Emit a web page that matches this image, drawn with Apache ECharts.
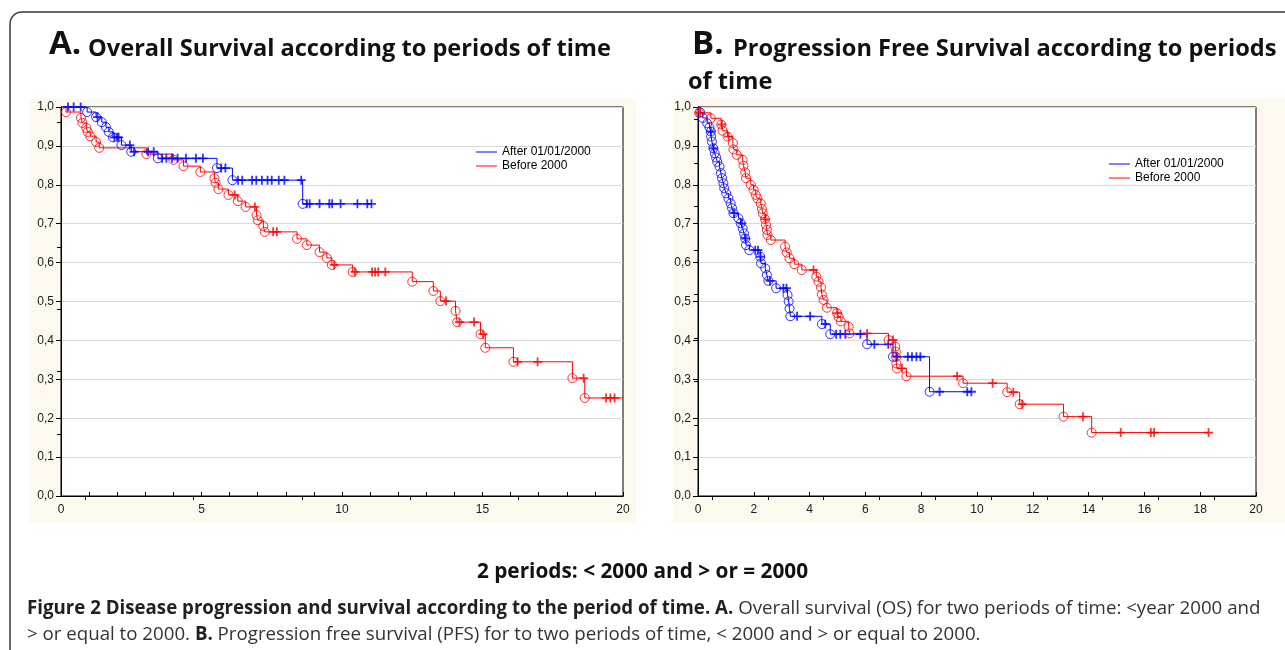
<!DOCTYPE html>
<html>
<head>
    <meta charset='utf-8'>
    <script src='https://cdn.jsdelivr.net/npm/echarts@6/dist/echarts.min.js'></script>
    <style>
        html, body, #main {
            width: 100%;
            height: 100%;
            margin: 0;
            background: #fff;
        }
    </style>
</head>
<body>
<div id='main'></div>
<script>
    // ---- data (time in years, survival 0..1) ----
    var seriesNames = ['After 01/01/2000', 'Before 2000'];

    // A. Overall survival, after 2000
    var osAfterEventT = [0.93, 1.25, 1.45, 1.6, 1.7, 1.85, 2.15, 2.5, 3.45, 5.55, 6.1, 8.6];
    var osAfterEventS = [0.987, 0.974, 0.961, 0.948, 0.936, 0.922, 0.902, 0.885, 0.868, 0.843, 0.812, 0.751];
    var osAfterCensor = [0.25, 0.45, 0.7, 1.3, 1.9, 2.0, 2.05, 2.45, 2.6, 3.1, 3.3, 3.6, 3.75, 3.95, 4.15,
        4.45, 4.8, 5.05, 5.7, 5.85, 6.3, 6.45, 6.8, 6.95, 7.15, 7.35, 7.5, 7.75, 7.95, 8.55, 8.75, 8.85,
        9.2, 9.55, 9.65, 9.95, 10.55, 10.9, 11.05];
    var osAfterEnd = 11.05;

    // A. Overall survival, before 2000
    var osBeforeEventT = [0.18, 0.71, 0.76, 0.9, 0.95, 1.04, 1.25, 1.36, 3.04, 4.0, 4.36, 4.96, 5.46, 5.5,
        5.6, 5.96, 6.29, 6.57, 6.96, 7.0, 7.2, 7.25, 8.4, 8.75, 9.2, 9.46, 9.64, 10.38, 12.5, 13.25, 13.5,
        14.04, 14.1, 14.93, 15.1, 16.1, 18.2, 18.64];
    var osBeforeEventS = [0.987, 0.972, 0.959, 0.946, 0.936, 0.925, 0.91, 0.895, 0.879, 0.864, 0.848,
        0.833, 0.817, 0.805, 0.789, 0.774, 0.758, 0.743, 0.722, 0.709, 0.694, 0.679, 0.661, 0.645, 0.627,
        0.612, 0.594, 0.576, 0.551, 0.527, 0.501, 0.476, 0.447, 0.416, 0.381, 0.345, 0.303, 0.252];
    var osBeforeCensor = [6.18, 6.9, 7.55, 7.68, 9.72, 10.46, 11.07, 11.18, 11.29, 11.54, 13.7, 14.18,
        14.7, 15.02, 16.25, 16.96, 18.6, 19.4, 19.55, 19.7];
    var osBeforeEnd = 20;

    // B. Progression free survival, after 2000
    var pfsAfterEventT = [0.08, 0.17, 0.33, 0.41, 0.46, 0.47, 0.5, 0.55, 0.6, 0.65, 0.69, 0.77, 0.82, 0.86,
        0.91, 0.94, 1.01, 1.09, 1.17, 1.22, 1.27, 1.45, 1.53, 1.6, 1.65, 1.69, 1.72, 1.84, 2.23, 2.26, 2.41,
        2.47, 2.52, 2.8, 3.21, 3.25, 3.28, 3.31, 4.44, 4.74, 6.06, 6.99, 8.3];
    var pfsAfterEventS = [0.986, 0.972, 0.958, 0.948, 0.937, 0.924, 0.911, 0.894, 0.881, 0.87, 0.859, 0.847,
        0.83, 0.817, 0.804, 0.791, 0.778, 0.765, 0.752, 0.74, 0.727, 0.714, 0.701, 0.688, 0.675, 0.662,
        0.645, 0.632, 0.615, 0.598, 0.585, 0.568, 0.553, 0.534, 0.517, 0.5, 0.482, 0.462, 0.442, 0.416,
        0.39, 0.358, 0.268];
    var pfsAfterCensor = [0.46, 0.56, 1.29, 1.57, 1.71, 2.05, 2.15, 2.24, 2.58, 3.06, 3.17, 3.55, 4.02,
        4.56, 4.95, 5.1, 5.28, 5.82, 6.32, 6.82, 7.13, 7.52, 7.67, 7.83, 7.97, 8.66, 9.65, 9.8];
    var pfsAfterEnd = 9.8;

    // B. Progression free survival, before 2000
    var pfsBeforeEventT = [0.04, 0.46, 0.83, 0.88, 1.06, 1.25, 1.27, 1.39, 1.6, 1.63, 1.69, 1.72, 1.89,
        1.99, 2.07, 2.13, 2.25, 2.29, 2.32, 2.4, 2.44, 2.47, 2.49, 2.61, 3.12, 3.18, 3.28, 3.45, 3.72, 4.24,
        4.32, 4.41, 4.44, 4.5, 4.62, 4.98, 5.04, 5.12, 5.4, 5.43, 6.83, 7.07, 7.09, 7.1, 7.11, 7.13, 7.47,
        9.5, 11.08, 11.53, 13.1, 14.11];
    var pfsBeforeEventS = [0.985, 0.971, 0.955, 0.939, 0.924, 0.907, 0.891, 0.877, 0.864, 0.849, 0.832,
        0.817, 0.8, 0.787, 0.774, 0.765, 0.752, 0.738, 0.727, 0.712, 0.697, 0.684, 0.671, 0.658, 0.641,
        0.626, 0.611, 0.596, 0.581, 0.564, 0.551, 0.536, 0.518, 0.504, 0.484, 0.47, 0.46, 0.449, 0.435,
        0.418, 0.401, 0.384, 0.371, 0.357, 0.341, 0.328, 0.308, 0.29, 0.267, 0.236, 0.204, 0.163];
    var pfsBeforeCensor = [0.08, 0.86, 1.1, 2.42, 4.14, 5.0, 6.06, 6.99, 7.31, 9.29, 10.56, 11.3, 11.62,
        13.8, 15.15, 16.23, 16.35, 18.3];
    var pfsBeforeEnd = 18.3;

    // extra tick positions on the top / right frame (unlabelled)
    var osTopTicks = [0.86, 4.71, 8.57, 12.43, 16.29];
    var osRightTicks = [0.16, 0.32, 0.48, 0.64, 0.8, 0.96];
    var pfsTopTicks = [0.5, 2.5, 4.5, 6.5, 8.5, 10.5, 12.5, 14.5, 16.5, 18.5];
    var pfsRightTicks = [0.069, 0.181, 0.294, 0.406, 0.519, 0.631, 0.744, 0.856, 0.969];

    var BLUE = '#0000ff';
    var RED = '#ff0000';
    var PLUS = 'path://M3.6,0H5.4V3.6H9V5.4H5.4V9H3.6V5.4H0V3.6H3.6Z';

    function survAt(evT, evS, t) {
        var s = 1;
        for (var i = 0; i < evT.length; i++) {
            if (evT[i] <= t) s = evS[i];
        }
        return s;
    }

    function makeSeries(name, color, idx, evT, evS, cens, endT) {
        var line = [[0, 1]];
        var events = [];
        for (var i = 0; i < evT.length; i++) {
            line.push([evT[i], evS[i]]);
            events.push([evT[i], evS[i]]);
        }
        line.push([endT, evS[evS.length - 1]]);
        var cpts = cens.map(function (t) { return [t, survAt(evT, evS, t)]; });
        return [
            {
                name: name, type: 'line', step: 'end', xAxisIndex: idx * 2, yAxisIndex: idx * 2,
                data: line, showSymbol: false, lineStyle: {color: color, width: 1}, itemStyle: {color: color},
                z: 3
            },
            {
                name: name + ' events', type: 'scatter', xAxisIndex: idx * 2, yAxisIndex: idx * 2,
                data: events, symbol: 'circle', symbolSize: 9,
                itemStyle: {color: 'transparent', borderColor: color, borderWidth: 1}, z: 4
            },
            {
                name: name + ' censored', type: 'scatter', xAxisIndex: idx * 2, yAxisIndex: idx * 2,
                data: cpts, symbol: PLUS, symbolSize: 9, itemStyle: {color: color}, z: 4
            }
        ];
    }

    var labelFont = {fontFamily: 'Liberation Sans', fontSize: 12, color: '#1a1a1a'};

    function bottomAxis(grid, interval, minor) {
        return {
            type: 'value', gridIndex: grid, min: 0, max: 20, interval: interval, position: 'bottom',
            axisLine: {show: true, lineStyle: {color: '#000'}},
            axisTick: {show: true, inside: true, length: 4, lineStyle: {color: '#000'}},
            minorTick: {show: minor, splitNumber: 5, length: 4, lineStyle: {color: '#000'}},
            axisLabel: Object.assign({margin: 8}, labelFont),
            splitLine: {show: false}
        };
    }
    function topAxis(grid, ticks) {
        return {
            type: 'value', gridIndex: grid, min: 0, max: 20, position: 'top',
            axisLine: {show: true, lineStyle: {color: '#000'}},
            axisTick: {show: true, inside: true, length: 4, customValues: ticks, lineStyle: {color: '#000'}},
            axisLabel: {show: false}, splitLine: {show: false}
        };
    }
    function leftAxis(grid) {
        return {
            type: 'value', gridIndex: grid, min: 0, max: 1, interval: 0.1, position: 'left',
            axisLine: {show: true, lineStyle: {color: '#000'}},
            axisTick: {show: true, inside: false, length: 5, lineStyle: {color: '#000'}},
            axisLabel: Object.assign({margin: 7, formatter: function (v) {
                return v.toFixed(1).replace('.', ',');
            }}, labelFont),
            splitLine: {show: true, lineStyle: {color: '#d9d9d9', width: 1}}
        };
    }
    function rightAxis(grid, ticks) {
        return {
            type: 'value', gridIndex: grid, min: 0, max: 1, position: 'right',
            axisLine: {show: true, lineStyle: {color: '#000'}},
            axisTick: {show: true, inside: true, length: 4, customValues: ticks, lineStyle: {color: '#000'}},
            axisLabel: {show: false}, splitLine: {show: false}
        };
    }

    function legend(left, top, w) {
        return {
            left: left, top: top, orient: 'vertical', icon: 'rect', itemWidth: w, itemHeight: 1,
            itemGap: 0, data: seriesNames, selectedMode: false,
            textStyle: {fontFamily: 'Liberation Sans', fontSize: 12, color: '#000', lineHeight: 14}
        };
    }

    var series = []
        .concat(makeSeries(seriesNames[1], RED, 0, osBeforeEventT, osBeforeEventS, osBeforeCensor, osBeforeEnd))
        .concat(makeSeries(seriesNames[0], BLUE, 0, osAfterEventT, osAfterEventS, osAfterCensor, osAfterEnd))
        .concat(makeSeries(seriesNames[0], BLUE, 1, pfsAfterEventT, pfsAfterEventS, pfsAfterCensor, pfsAfterEnd))
        .concat(makeSeries(seriesNames[1], RED, 1, pfsBeforeEventT, pfsBeforeEventS, pfsBeforeCensor, pfsBeforeEnd));

    var titleFont = 'Open Sans';
    var capRich = {
        b: {fontFamily: titleFont, fontWeight: 'bold', fontSize: 18.7, fill: '#231f20'},
        r: {fontFamily: titleFont, fontSize: 18.7, fill: '#333'}
    };
    var chart = echarts.init(document.getElementById('main'));
    chart.setOption({
        animation: false,
        backgroundColor: '#fff',
        grid: [
            {left: 61, top: 107, width: 562, height: 389, show: true, backgroundColor: '#fff', borderColor: '#000', borderWidth: 1},
            {left: 698, top: 107, width: 558, height: 389, show: true, backgroundColor: '#fff', borderColor: '#000', borderWidth: 1}
        ],
        xAxis: [bottomAxis(0, 5, true), topAxis(0, osTopTicks), bottomAxis(1, 2, false), topAxis(1, pfsTopTicks)],
        yAxis: [leftAxis(0), rightAxis(0, osRightTicks), leftAxis(1), rightAxis(1, pfsRightTicks)],
        legend: [legend(471, 140, 21), legend(1104, 152, 21)],
        graphic: [
            {type: 'rect', z: -2, silent: true, shape: {x: 10, y: 12, width: 1320, height: 700, r: 12},
                style: {fill: '#fff', stroke: '#3a3a3a', lineWidth: 1.5}},
            {type: 'rect', z: -1, silent: true, shape: {x: 29, y: 99, width: 607, height: 424},
                style: {fill: '#fdf9ee'}},
            {type: 'rect', z: -1, silent: true, shape: {x: 673, y: 99, width: 640, height: 424},
                style: {fill: '#fdf9ee'}},
            {type: 'text', left: 49, top: 28, style: {text: 'A.', font: 'bold 33px "' + titleFont + '"', fill: '#111'}},
            {type: 'text', left: 88, top: 37, style: {text: 'Overall Survival according to periods of time',
                font: 'bold 23.6px "' + titleFont + '"', fill: '#111'}},
            {type: 'text', left: 692, top: 28, style: {text: 'B.', font: 'bold 33px "' + titleFont + '"', fill: '#111'}},
            {type: 'text', left: 733, top: 37, style: {text: 'Progression Free Survival according to periods',
                font: 'bold 23.6px "' + titleFont + '"', fill: '#111'}},
            {type: 'text', left: 688, top: 70, style: {text: 'of time', font: 'bold 23.6px "' + titleFont + '"', fill: '#111'}},
            {type: 'text', left: 'center', top: 562, style: {text: '2 periods: < 2000 and > or = 2000',
                font: 'bold 20.8px "' + titleFont + '"', fill: '#111'}},
            {type: 'text', left: 27, top: 599, style: {
                text: '{b|Figure 2 Disease progression and survival according to the period of time. A.}{r| Overall survival (OS) for two periods of time: <year 2000 and}',
                rich: capRich}},
            {type: 'text', left: 27, top: 625, style: {
                text: '{r|> or equal to 2000. }{b|B.}{r| Progression free survival (PFS) for to two periods of time, < 2000 and > or equal to 2000.}',
                rich: capRich}}
        ],
        series: series
    });
</script>
</body>
</html>
